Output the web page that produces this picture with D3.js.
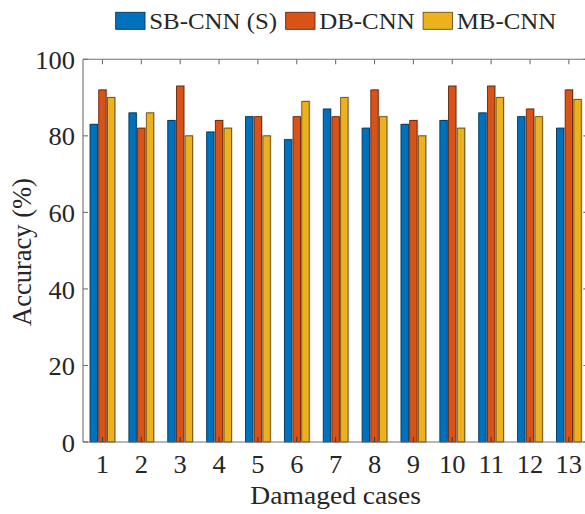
<!DOCTYPE html>
<html>
<head>
<meta charset="utf-8">
<script src="https://cdn.jsdelivr.net/npm/d3@7"></script>
<style>
  html, body { margin: 0; padding: 0; background: #fff; }
  svg { display: block; }
  text { font-family: "Liberation Serif", "Times New Roman", Times, Tinos, serif; }
</style>
</head>
<body>
<svg id="chart" width="585" height="514"></svg>
<script>
// Accuracy (%) per damaged case for each network
const cases = [1, 2, 3, 4, 5, 6, 7, 8, 9, 10, 11, 12, 13];
const seriesNames = ["SB-CNN (S)", "DB-CNN", "MB-CNN"];
const seriesColors = ["#0072BD", "#D95319", "#EDB120"];
const sbCnn = [83, 86, 84, 81, 85, 79, 87, 82, 83, 84, 86, 85, 82];
const dbCnn = [92, 82, 93, 84, 85, 85, 85, 92, 84, 93, 93, 87, 92];
const mbCnn = [90, 86, 80, 82, 80, 89, 90, 85, 80, 82, 90, 85, 89.5];
const yTicks = [0, 20, 40, 60, 80, 100];
const xLabel = "Damaged cases";
const yLabel = "Accuracy (%)";

const seriesValues = [sbCnn, dbCnn, mbCnn];

const svg = d3.select("#chart");
const W = 585, H = 514;
const plot = { left: 83, right: 588.3, top: 59.3, bottom: 442 };
const textStretch = 1.06;
const axisColor = "#707070";
const textColor = "#262626";
const fontFamily = "'Liberation Serif', 'Times New Roman', Times, serif";

const x = d3.scaleLinear().domain([0.5, 13.5]).range([plot.left, plot.right]);
const y = d3.scaleLinear().domain([0, 100]).range([plot.bottom, plot.top]);
const inner = d3.scaleBand().domain(seriesNames).range([-12.4, 12.4]).paddingInner(0.15).paddingOuter(0);

svg.append("rect").attr("width", W).attr("height", H).attr("fill", "#fff");

// bars
const rows = [];
cases.forEach((c, i) => {
  seriesNames.forEach((s, k) => rows.push({ c, s, k, v: seriesValues[k][i] }));
});

const barG = svg.append("g");
// soft grey halo on the right/top of each bar
barG.selectAll("rect.halo").data(rows).join("rect")
  .attr("class", "halo")
  .attr("x", d => x(d.c) + inner(d.s) + 1.2)
  .attr("y", d => y(d.v) - 1)
  .attr("width", inner.bandwidth())
  .attr("height", d => y(0) - y(d.v) + 1)
  .attr("fill", "#cfcfcf");

barG.selectAll("rect.bar").data(rows).join("rect")
  .attr("class", "bar")
  .attr("x", d => x(d.c) + inner(d.s))
  .attr("y", d => y(d.v))
  .attr("width", inner.bandwidth())
  .attr("height", d => y(0) - y(d.v))
  .attr("fill", d => seriesColors[d.k])
  .attr("stroke", d => d3.color(seriesColors[d.k]).darker(2.2))
  .attr("stroke-width", 0.9);

// axes box and ticks
const axG = svg.append("g").attr("stroke", axisColor).attr("stroke-width", 1.1).attr("fill", "none");
axG.append("line").attr("x1", plot.left).attr("x2", plot.right).attr("y1", plot.top).attr("y2", plot.top);
axG.append("line").attr("x1", plot.left).attr("x2", plot.right).attr("y1", plot.bottom).attr("y2", plot.bottom);
axG.append("line").attr("x1", plot.left).attr("x2", plot.left).attr("y1", plot.top).attr("y2", plot.bottom);
axG.append("line").attr("x1", plot.right).attr("x2", plot.right).attr("y1", plot.top).attr("y2", plot.bottom);

const tickLen = 5;
cases.forEach(c => {
  axG.append("line").attr("x1", x(c)).attr("x2", x(c)).attr("y1", plot.top).attr("y2", plot.top + tickLen);
  axG.append("line").attr("x1", x(c)).attr("x2", x(c)).attr("y1", plot.bottom).attr("y2", plot.bottom - tickLen)
    .attr("stroke", "#4a3a30");
});
yTicks.forEach(t => {
  axG.append("line").attr("x1", plot.left).attr("x2", plot.left + tickLen).attr("y1", y(t)).attr("y2", y(t));
  axG.append("line").attr("x1", plot.right).attr("x2", plot.right - tickLen).attr("y1", y(t)).attr("y2", y(t));
});

// text helper with slight horizontal stretch
function label(g, str, px, py, size, anchor) {
  return g.append("text")
    .attr("transform", `translate(${px},${py}) scale(${textStretch},1)`)
    .attr("text-anchor", anchor)
    .attr("font-family", fontFamily)
    .attr("font-size", size)
    .attr("fill", textColor)
    .text(str);
}

const txt = svg.append("g");
cases.forEach(c => label(txt, String(c), x(c), 473.3, 25, "middle"));
yTicks.forEach(t => label(txt, String(t), 75, y(t) + 9.6, 25, "end"));
label(txt, xLabel, (plot.left + plot.right) / 2, 504, 26, "middle");

txt.append("text")
  .attr("transform", `translate(31,${252}) rotate(-90)`)
  .attr("text-anchor", "middle")
  .attr("font-family", fontFamily)
  .attr("font-size", 26.5)
  .attr("fill", textColor)
  .text(yLabel);

// legend
const lg = svg.append("g");
let lx = 115.7;
seriesNames.forEach((s, k) => {
  lg.append("rect")
    .attr("x", lx).attr("y", 12.3).attr("width", 29.3).attr("height", 17)
    .attr("fill", seriesColors[k])
    .attr("stroke", d3.color(seriesColors[k]).darker(2.2))
    .attr("stroke-width", 0.9);
  const t = label(lg, s, lx + 33.5, 28.5, 23.5, "start");
  lx += 33.5 + t.node().getComputedTextLength() * textStretch + 8.5;
});
</script>
</body>
</html>
